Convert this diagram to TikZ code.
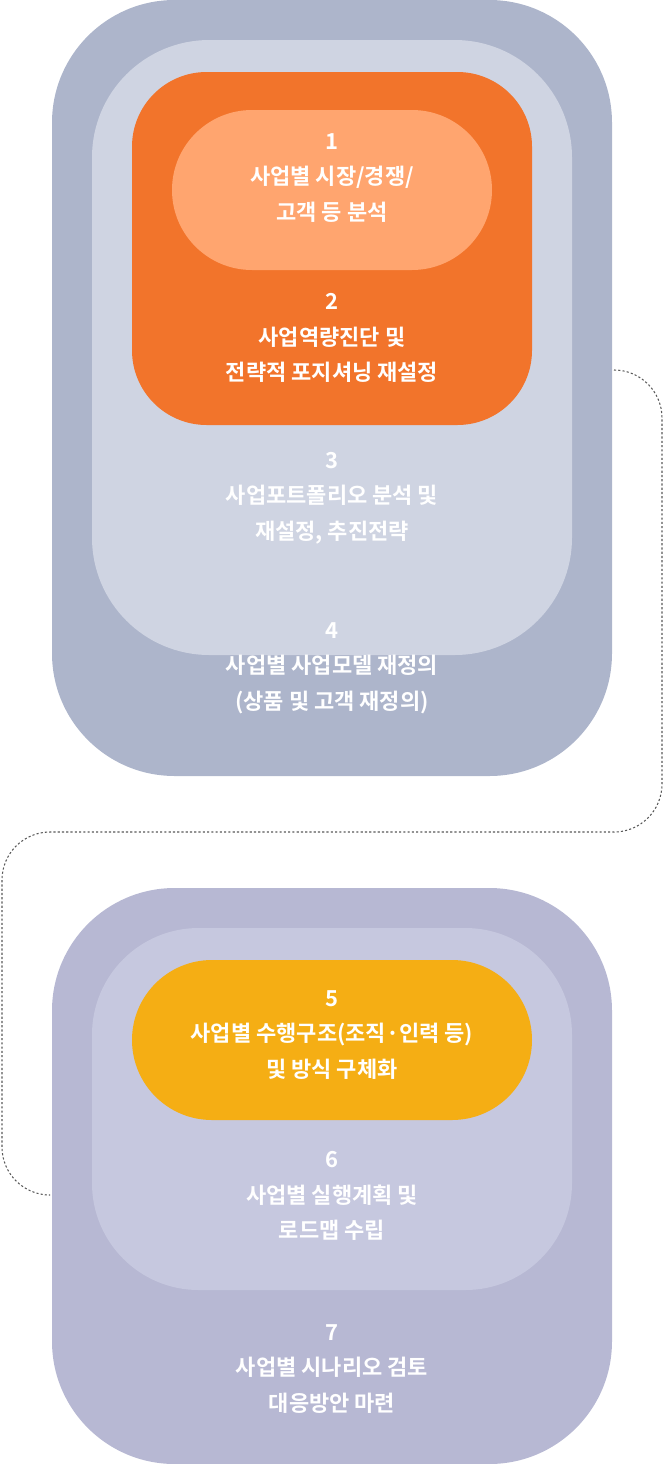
\documentclass[tikz,border=0pt]{standalone}
\usepackage{fontspec}
\setmainfont{Noto Sans CJK KR}[BoldFont={* Bold}]
\definecolor{outA}{HTML}{ADB5CB}
\definecolor{inA}{HTML}{CFD4E2}
\definecolor{org}{HTML}{F2742B}
\definecolor{lorg}{HTML}{FFA56F}
\definecolor{outB}{HTML}{B7B8D3}
\definecolor{inB}{HTML}{C6C8DF}
\definecolor{yel}{HTML}{F5AE14}
\begin{document}
\begin{tikzpicture}[x=0.75pt,y=-0.75pt,
 lbl/.style={text=white,font=\bfseries\fontsize{16.5}{26.5}\selectfont,align=center},
 dot/.style={draw=black!65,dash pattern=on 1.6pt off 1.6pt,line width=0.8pt}]
\useasboundingbox (0,0) rectangle (663,1464);
\path[fill=outA,rounded corners=92] (52,0) rectangle (612,776);
\path[fill=inA,rounded corners=88] (92,40) rectangle (572,655);
\path[fill=org,rounded corners=56] (132,72) rectangle (532,425);
\path[fill=lorg,rounded corners=60] (172,110) rectangle (492,270);
\path[fill=outB,rounded corners=92] (52,888) rectangle (612,1464);
\path[fill=inB,rounded corners=80] (92,928) rectangle (572,1290);
\path[fill=yel,rounded corners=60] (132,960) rectangle (532,1120);
\coordinate (a) at (614,370);
\coordinate (b) at (48,1195);
\draw[dot,rounded corners=36] (a) -- (662,370) -- (662,832) -- (2,832) -- (2,1195) -- (b);
\node[lbl] (t1) at (332,178) {1\\사업별 시장/경쟁/\\고객 등 분석};
\node[lbl] (t2) at (332,338) {2\\사업역량진단 및\\전략적 포지셔닝 재설정};
\node[lbl] (t3) at (332,498) {3\\사업포트폴리오 분석 및\\재설정, 추진전략};
\node[lbl] (t4) at (332,668) {4\\사업별 사업모델 재정의\\(상품 및 고객 재정의)};
\node[lbl] (t5) at (332,1035) {5\\사업별 수행구조(조직·인력 등)\\및 방식 구체화};
\node[lbl] (t6) at (332,1196) {6\\사업별 실행계획 및\\로드맵 수립};
\node[lbl] (t7) at (332,1369) {7\\사업별 시나리오 검토\\대응방안 마련};
\end{tikzpicture}
\end{document}
